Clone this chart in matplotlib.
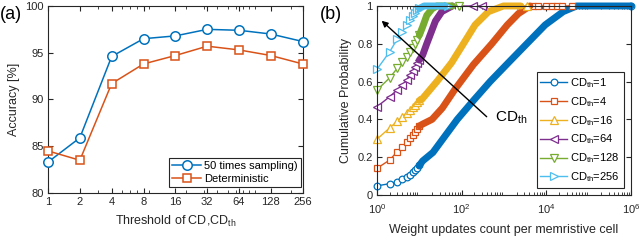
import matplotlib
matplotlib.use("Agg")
import matplotlib.pyplot as plt
from matplotlib.lines import Line2D
from matplotlib.ticker import LogLocator, NullFormatter, FixedLocator, FixedFormatter

plt.rcParams['font.family'] = ['Liberation Sans', 'DejaVu Sans']
plt.rcParams['mathtext.fontset'] = 'custom'
plt.rcParams['mathtext.rm'] = 'Liberation Sans'
plt.rcParams['mathtext.it'] = 'Liberation Sans'

# ---------------- Panel (a) data ----------------
cd_thresholds = [1, 2, 4, 8, 16, 32, 64, 128, 256]
acc_sampling = [83.3, 85.9, 94.6, 96.5, 96.8, 97.5, 97.4, 97.0, 96.2]
acc_determ = [84.5, 83.5, 91.7, 93.8, 94.7, 95.7, 95.3, 94.7, 93.8]
legend_a = ['50 times sampling)', 'Deterministic']

# ---------------- Panel (b) data ----------------
x_int = [1, 2, 3, 4, 5, 6, 7, 8, 9, 10]
labels_b = ['1', '4', '16', '64', '128', '256']

# CD_th = 1
y1_int = [0.048, 0.060, 0.070, 0.082, 0.095, 0.107, 0.119, 0.132, 0.144, 0.156]
x1_band = [12, 21, 37, 79, 190, 470, 1270, 3450, 9400, 25000, 52000, 1000000]
y1_band = [0.18, 0.225, 0.30, 0.40, 0.50, 0.60, 0.70, 0.80, 0.90, 0.97, 1.0, 1.0]
x1_tail = [1000000]
y1_tail = [1.0]

# CD_th = 4
y4_int = [0.141, 0.185, 0.229, 0.256, 0.279, 0.30, 0.318, 0.335, 0.350, 0.365]
x4_band = [12, 20, 35, 70, 190, 515, 1200, 2200, 4100]
y4_band = [0.375, 0.40, 0.46, 0.56, 0.69, 0.80, 0.90, 0.96, 1.0]
x4_tail = [4800, 6500, 10000, 13500, 17700, 23000, 41000]
y4_tail = [1.0, 1.0, 1.0, 1.0, 1.0, 1.0, 1.0]

# CD_th = 16
y16_int = [0.295, 0.355, 0.39, 0.415, 0.435, 0.45, 0.465, 0.478, 0.49, 0.50]
x16_band = [11.4, 26, 58, 110, 208, 430, 970, 2500]
y16_band = [0.505, 0.60, 0.70, 0.80, 0.90, 0.97, 1.0, 1.0]
x16_tail = [3450]
y16_tail = [1.0]

# CD_th = 64
y64_int = [0.467, 0.52, 0.556, 0.582, 0.608, 0.635, 0.656, 0.679, 0.697, 0.714]
x64_band = [12, 15, 19, 24, 34, 60]
y64_band = [0.74, 0.80, 0.86, 0.92, 0.97, 1.0]
x64_tail = [190, 300]
y64_tail = [1.0, 1.0]

# CD_th = 128
y128_int = [0.555, 0.62, 0.67, 0.705, 0.73, 0.755, 0.78, 0.80, 0.82, 0.845]
x128_band = [12, 15, 20, 26, 60]
y128_band = [0.89, 0.95, 0.985, 1.0, 1.0]
x128_tail = [88]
y128_tail = [1.0]

# CD_th = 256
y256_int = [0.665, 0.758, 0.824, 0.864, 0.90, 0.926, 0.947, 0.965, 0.977, 0.987]
x256_band = [13, 40]
y256_band = [1.0, 1.0]
x256_tail = [48]
y256_tail = [1.0]

curves = [
    (y1_int, x1_band, y1_band, x1_tail, y1_tail, '#0072BD', 'o'),
    (y4_int, x4_band, y4_band, x4_tail, y4_tail, '#D95319', 's'),
    (y16_int, x16_band, y16_band, x16_tail, y16_tail, '#EDB120', '^'),
    (y64_int, x64_band, y64_band, x64_tail, y64_tail, '#7E2F8E', '<'),
    (y128_int, x128_band, y128_band, x128_tail, y128_tail, '#77AC30', 'v'),
    (y256_int, x256_band, y256_band, x256_tail, y256_tail, '#4DBEEE', '>'),
]

TXT = '#262626'
fig = plt.figure(figsize=(6.4, 2.49), dpi=100)

def style_axes(ax):
    for s in ax.spines.values():
        s.set_color(TXT)
        s.set_linewidth(0.8)
    ax.tick_params(which='both', direction='in', top=True, right=True,
                   colors=TXT, labelsize=8, pad=3)
    ax.tick_params(which='major', length=3.5)
    ax.tick_params(which='minor', length=2)

# ---------- (a) ----------
axa = fig.add_axes([0.075, 0.225, 0.398, 0.751])
axa.plot(cd_thresholds, acc_sampling, color='#0072BD', lw=1.1, marker='o',
         ms=6.8, mfc='white', mew=1.1, label=legend_a[0], clip_on=False, zorder=3)
axa.plot(cd_thresholds, acc_determ, color='#D95319', lw=1.1, marker='s',
         ms=6.3, mfc='white', mew=1.1, label=legend_a[1], clip_on=False, zorder=3)
axa.set_xscale('log')
axa.set_xlim(1, 256)
axa.set_ylim(80, 100)
axa.xaxis.set_major_locator(FixedLocator(cd_thresholds))
axa.xaxis.set_major_formatter(FixedFormatter([str(v) for v in cd_thresholds]))
axa.xaxis.set_minor_locator(LogLocator(base=10, subs=range(2, 10)))
axa.xaxis.set_minor_formatter(NullFormatter())
axa.set_yticks([80, 85, 90, 95, 100])
style_axes(axa)
axa.set_xlabel('Threshold of CD,CD$_{\\mathrm{th}}$', fontsize=9, color=TXT, labelpad=5)
axa.set_ylabel('Accuracy [%]', fontsize=9, color=TXT, labelpad=4)
leg = axa.legend(loc='lower right', bbox_to_anchor=(0.995, 0.03), borderaxespad=0,
                 fontsize=8, fancybox=False, edgecolor=TXT, framealpha=1,
                 handlelength=2.6, labelspacing=0.25, borderpad=0.3, handletextpad=0.3)
leg.get_frame().set_linewidth(0.8)
for t in leg.get_texts():
    t.set_color('black')
fig.text(0.0, 0.975, '(a)', fontsize=13, va='top', ha='left', color='black')

# ---------- (b) ----------
axb = fig.add_axes([0.589, 0.217, 0.397, 0.759])
handles = []
for (yint, xb, yb, xt, yt, col, mk) in curves:
    ms = 5.2 if mk in '<>^v' else 4.8
    xs = x_int + xb + xt
    ys = yint + yb + yt
    mark_idx = list(range(len(x_int))) + list(range(len(x_int) + len(xb), len(xs)))
    axb.plot(xs, ys, color=col, lw=1.0, marker=mk, ms=ms, mfc='white', mew=0.9,
             markevery=mark_idx, clip_on=False)
    axb.plot([x_int[-1]] + xb, [yint[-1]] + yb, color=col, lw=5.0,
             solid_capstyle='round', clip_on=False)
    handles.append(Line2D([], [], color=col, lw=1.0, marker=mk, ms=ms,
                          mfc='white', mew=0.9))
axb.set_xscale('log')
axb.set_xlim(1, 1e6)
axb.set_ylim(0, 1)
axb.xaxis.set_major_locator(FixedLocator([1, 1e2, 1e4, 1e6]))
axb.xaxis.set_major_formatter(FixedFormatter(['10$^{0}$', '10$^{2}$', '10$^{4}$', '10$^{6}$']))
axb.xaxis.set_minor_locator(LogLocator(base=10, subs=range(2, 10), numticks=20))
axb.xaxis.set_minor_formatter(NullFormatter())
axb.set_yticks([0, 0.2, 0.4, 0.6, 0.8, 1])
axb.set_yticklabels(['0', '0.2', '0.4', '0.6', '0.8', '1'])
style_axes(axb)
axb.tick_params(axis='x', which='major', pad=5)
axb.set_xlabel('Weight updates count per memristive cell', fontsize=9, color=TXT, labelpad=6)
axb.set_ylabel('Cumulative Probability', fontsize=9, color=TXT, labelpad=4)
legb = axb.legend(handles, ['CD$_{\\mathrm{th}}$=' + s for s in labels_b],
                  loc='lower right', bbox_to_anchor=(0.972, 0.037), borderaxespad=0,
                  fontsize=8, fancybox=False, edgecolor=TXT, framealpha=1,
                  handlelength=2.4, labelspacing=0.45, borderpad=0.35, handletextpad=0.3)
legb.get_frame().set_linewidth(0.8)
axb.annotate('', xy=(1.29, 0.922), xytext=(390, 0.414),
             arrowprops=dict(arrowstyle='-|>', color='black', lw=1.0,
                             mutation_scale=9, shrinkA=0, shrinkB=0))
axb.text(620, 0.41, 'CD$_{\\mathrm{th}}$', fontsize=11, va='center', ha='left', color='black')
fig.text(0.5, 0.975, '(b)', fontsize=13, va='top', ha='left', color='black')

fig.savefig('out.png', dpi=100)
